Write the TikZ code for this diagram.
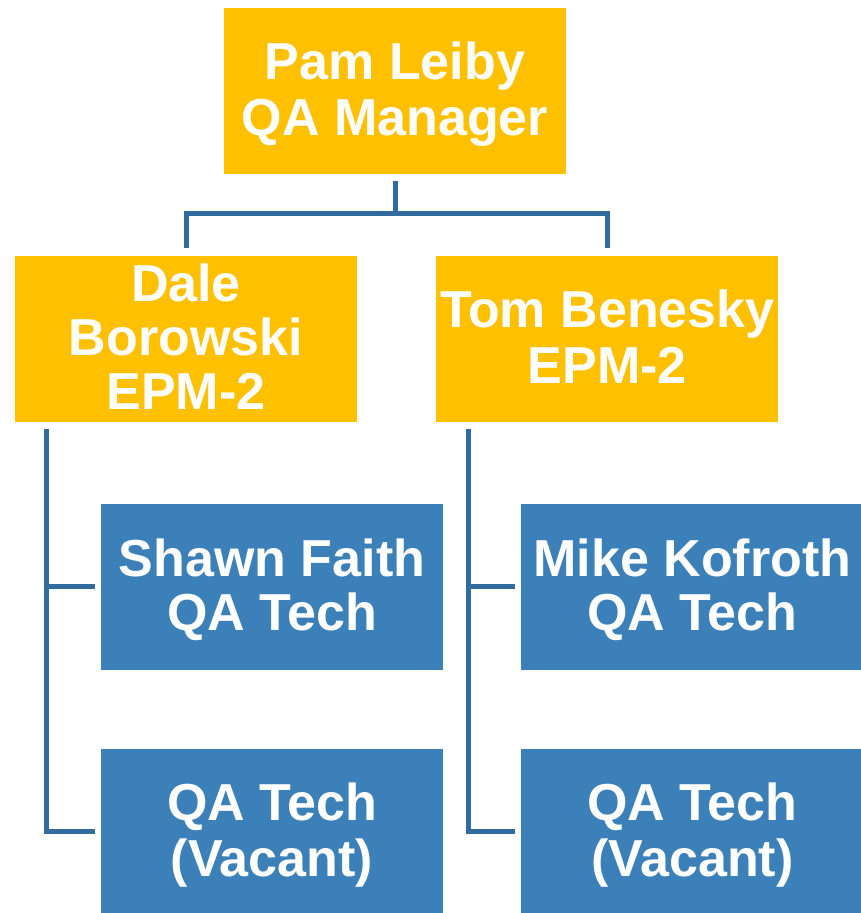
\documentclass[tikz,border=0pt]{standalone}
\usepackage{fontspec}
\setmainfont{Liberation Sans}
\usetikzlibrary{positioning}

\definecolor{mgrorange}{RGB}{255,192,0}
\definecolor{techblue}{RGB}{60,128,185}
\definecolor{linkblue}{RGB}{50,107,158}
\newcommand{\tstrut}{\rule[-10pt]{0pt}{54pt}}

\begin{document}
\begin{tikzpicture}[x=1pt,y=-1pt,
    box/.style={rectangle, text=white, inner sep=0pt, align=center, minimum width=342pt,
        font=\bfseries\fontsize{52}{54}\selectfont},
    boss/.style={box, fill=mgrorange, minimum height=166pt},
    tech/.style={box, fill=techblue, minimum height=166pt},
    link/.style={draw=linkblue, line width=5pt},
    ]
                        \useasboundingbox (0,0) rectangle (861,913);

                        \node [boss](pam) [at={(395,91)}]{\tstrut Pam Leiby\\\tstrut QA Manager};
                        \node [boss](dale) [at={(186,338.5)}]{\tstrut Dale\\\tstrut Borowski\\\tstrut EPM-2};
                        \node [boss](tom) [right = 79pt of dale]{\tstrut Tom Benesky\\\tstrut EPM-2};

                        \node [tech](shawn) [at={(272,586.5)}]{\tstrut Shawn Faith\\\tstrut QA Tech};
                        \node [tech](vacL) [below = 79pt of shawn]{\tstrut QA Tech\\\tstrut (Vacant)};
                        \node [tech](mike) [right = 78pt of shawn]{\tstrut Mike Kofroth\\\tstrut QA Tech};
                        \node [tech](vacR) [below = 79pt of mike]{\tstrut QA Tech\\\tstrut (Vacant)};

                        \coordinate (bus) at (395,213);
                        \coordinate (railL) at ([xshift=32pt]dale.south west);
                        \coordinate (railR) at ([xshift=32pt]tom.south west);

                        \draw[link, shorten <=7pt] (pam) -- (bus);
                        \draw[link, shorten >=7pt] (bus) -| (dale);
                        \draw[link, shorten >=7pt] (bus) -| (tom);

                        \draw[link, shorten <=7pt, shorten >=6pt] (railL) |- (vacL);
                        \draw[link, shorten >=6pt] (railL |- shawn.west) -- (shawn);
                        \draw[link, shorten <=7pt, shorten >=6pt] (railR) |- (vacR);
                        \draw[link, shorten >=6pt] (railR |- mike.west) -- (mike);
                    \end{tikzpicture}
\end{document}
